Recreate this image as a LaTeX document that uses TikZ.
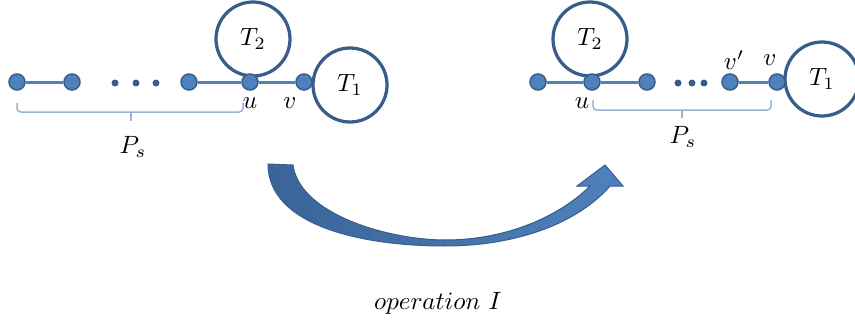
\documentclass[tikz,border=0pt]{standalone}
\usepackage{xcolor}
\usetikzlibrary{positioning}
\definecolor{vertexFill}{HTML}{4F81BD}
\definecolor{vertexDraw}{HTML}{385D8A}
\definecolor{braceBlue}{HTML}{95B3D7}
\definecolor{arrowDark}{HTML}{3A6499}

\begin{document}
\begin{tikzpicture}[x=0.4pt,y=-0.4pt,
    vertex/.style={circle,fill=vertexFill,draw=vertexDraw,
                   line width=0.6pt,inner sep=0pt,minimum size=6.4pt},
    subtree/.style={circle,draw=vertexDraw,line width=1.3pt,
                    inner sep=0pt,minimum size=29.6pt},
    pathedge/.style={draw=vertexFill,line width=1.2pt},
    gapdot/.style={circle,fill=vertexDraw,inner sep=0pt,minimum size=2.8pt},
    bracket/.style={draw=braceBlue,line width=0.6pt,rounded corners=1.5pt},
    lbl/.style={inner sep=0pt}]
    \useasboundingbox (0,0) rectangle (855,320);
    \clip (0,0) rectangle (855,320);
    % before
    \node[subtree] (ta2) at (253,39) {$T_2$};
    \node[subtree] (ta1) at (350,85) {$T_1$};
    \node[vertex] (a1) at (17,82)  {};
    \node[vertex] (a2) at (72,82)  {};
    \node[vertex] (a3) at (189,82) {};
    \node[vertex] (ua) at (250,82) {};
    \node[vertex] (va) at (304,82) {};
    \node[gapdot] (da1) at (115,83) {};
    \node[gapdot] (da2) at (136,83) {};
    \node[gapdot] (da3) at (156,83) {};
    \draw[pathedge] (a1) -- (a2);
    \draw[pathedge] (a3) -- (ua) -- (va);
    \node[lbl] (lua) at (250,103) {$u$};
    \node[lbl] (lva) at (290,103) {$v$};
    \draw[bracket] (17,103) |- (243,112) -- (243,103);
    \draw[bracket] (131,112) -- (131,121);
    \node[lbl] (psa) at (133,147) {$P_s$};
    % after
    \node[subtree] (tb2) at (590,39) {$T_2$};
    \node[subtree] (tb1) at (822,79) {$T_1$};
    \node[vertex] (b1) at (538,82) {};
    \node[vertex] (ub) at (592,82) {};
    \node[vertex] (b3) at (647,82) {};
    \node[vertex] (vpb) at (730,82) {};
    \node[vertex] (vb) at (777,82) {};
    \node[gapdot] (db1) at (678,83) {};
    \node[gapdot] (db2) at (692,83) {};
    \node[gapdot] (db3) at (704,83) {};
    \draw[pathedge] (b1) -- (ub) -- (b3);
    \draw[pathedge] (vpb) -- (vb);
    \node[lbl] (lub) at (582,103) {$u$};
    \node[lbl] (lvpb) at (734,60) {$v'$};
    \node[lbl] (lvb) at (770,60) {$v$};
    \draw[bracket] (593,100) |- (771,110) -- (771,100);
    \draw[bracket] (682,110) -- (682,118);
    \node[lbl] (psb) at (683,137) {$P_s$};
    % operation arrow
    \shade[left color=arrowDark,right color=vertexFill,draw=vertexDraw,line width=0.4pt]
      (268,164) -- (293,165) .. controls (300,215) and (390,240) .. (445,240)
      .. controls (510,240) and (562,214) .. (590,186) -- (577,186)
      -- (605,165) -- (623,186) -- (610,186)
      .. controls (577,224) and (515,246) .. (445,246)
      .. controls (360,246) and (268,225) .. (268,164) -- cycle;
    \node (oplabel) at (438,303) {$operation\ I$};
\end{tikzpicture}
\end{document}
